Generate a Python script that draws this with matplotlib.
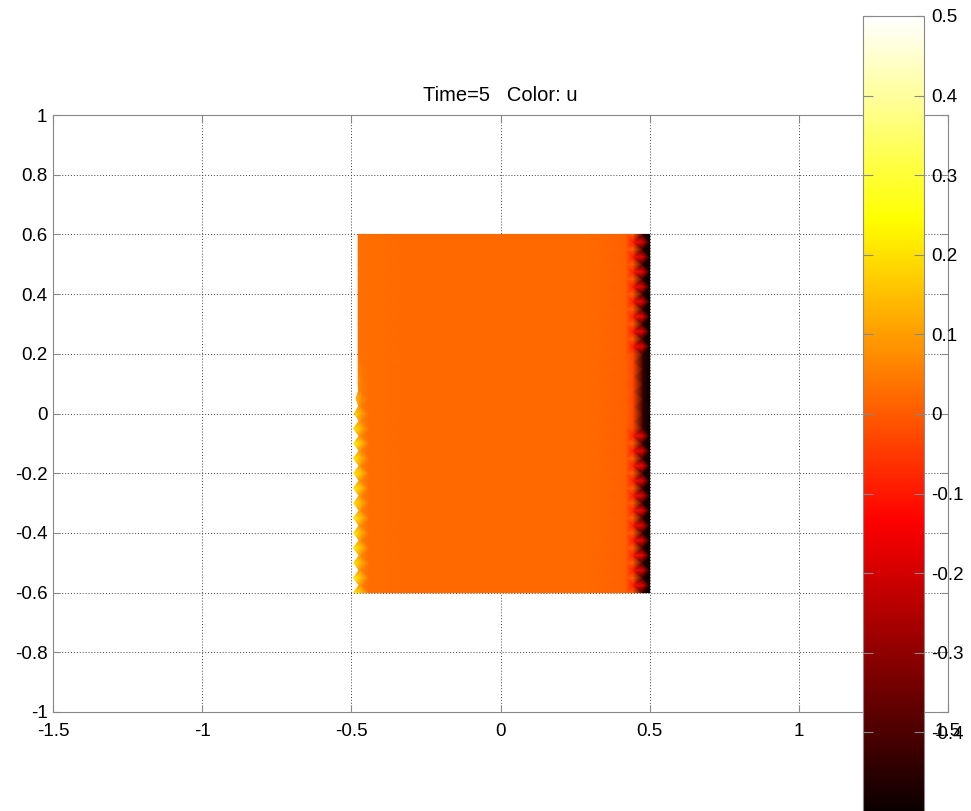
import matplotlib.pyplot as plt
import matplotlib.tri as mtri
import numpy as np

plt.rcParams['font.family'] = ['Liberation Sans', 'DejaVu Sans']

# mesh columns (x) and rows (y) of the deformed strip
x_cols = [-0.48, -0.465, -0.44, -0.3, 0.0, 0.3, 0.42, 0.445, 0.478, 0.5]
y_rows = np.round(np.arange(-0.6, 0.6001, 0.025), 3)
# left boundary is jagged: x of each boundary node, bottom to top
x_left = [-0.492, -0.474, -0.492, -0.474, -0.491, -0.474, -0.492, -0.474, -0.491, -0.474,
          -0.492, -0.474, -0.491, -0.474, -0.492, -0.474, -0.491, -0.474, -0.492, -0.474,
          -0.491, -0.474, -0.492, -0.474, -0.489, -0.475, -0.484, -0.476, -0.477, -0.477,
          -0.477, -0.477, -0.477, -0.477, -0.477, -0.477, -0.477, -0.477, -0.477, -0.477,
          -0.477, -0.477, -0.477, -0.477, -0.477, -0.477, -0.477, -0.477, -0.477]

# u on the left edge, bottom to top
u_left = [0.25, 0.10, 0.26, 0.09, 0.23, 0.11, 0.26, 0.10, 0.24, 0.09,
          0.27, 0.11, 0.23, 0.10, 0.26, 0.09, 0.25, 0.11, 0.24, 0.10,
          0.26, 0.09, 0.23, 0.10, 0.21, 0.08, 0.15, 0.07, 0.08, 0.07,
          0.06, 0.05, 0.04, 0.03, 0.03, 0.03, 0.03, 0.03, 0.03, 0.03,
          0.03, 0.03, 0.03, 0.03, 0.03, 0.03, 0.03, 0.03, 0.03]
u_left_in = [0.14, 0.06, 0.14, 0.06, 0.12, 0.06, 0.14, 0.06, 0.12, 0.06,
             0.14, 0.06, 0.12, 0.06, 0.14, 0.06, 0.14, 0.06, 0.12, 0.06,
             0.14, 0.06, 0.12, 0.06, 0.10, 0.05, 0.07, 0.05, 0.05, 0.04,
             0.04, 0.03, 0.03, 0.03, 0.03, 0.03, 0.03, 0.03, 0.03, 0.03,
             0.03, 0.03, 0.03, 0.03, 0.03, 0.03, 0.03, 0.03, 0.03]
# interior columns (constant along y)
u_core = [0.03, 0.02, 0.02, 0.02, 0.01]
# u near the right edge, bottom to top
u_right_in = [0.0, -0.10, 0.0, -0.10, 0.0, -0.09, 0.0, -0.10, 0.0, -0.10,
              0.0, -0.09, 0.0, -0.10, 0.0, -0.10, 0.0, -0.09, 0.0, -0.10,
              0.0, -0.09, -0.03, -0.03, -0.03, -0.03, -0.03, -0.03, -0.03, -0.03,
              -0.03, -0.03, -0.03, -0.10, 0.0, -0.10, 0.0, -0.09, 0.0, -0.10,
              0.0, -0.10, 0.0, -0.09, 0.0, -0.10, 0.0, -0.10, 0.0]
u_right_mid = [-0.46, -0.18, -0.46, -0.18, -0.46, -0.16, -0.46, -0.18, -0.46, -0.18,
               -0.46, -0.16, -0.46, -0.18, -0.46, -0.18, -0.46, -0.16, -0.46, -0.18,
               -0.46, -0.18, -0.44, -0.44, -0.44, -0.44, -0.44, -0.44, -0.44, -0.44,
               -0.44, -0.44, -0.44, -0.18, -0.46, -0.18, -0.46, -0.16, -0.46, -0.18,
               -0.46, -0.18, -0.46, -0.16, -0.46, -0.18, -0.46, -0.18, -0.46]
u_right_edge = -0.5

cbar_ticks = [-0.4, -0.3, -0.2, -0.1, 0, 0.1, 0.2, 0.3, 0.4, 0.5]
x_ticks = [-1.5, -1, -0.5, 0, 0.5, 1, 1.5]
y_ticks = [-1, -0.8, -0.6, -0.4, -0.2, 0, 0.2, 0.4, 0.6, 0.8, 1]

# assemble nodal field
ny, nx = len(y_rows), len(x_cols)
U = np.zeros((ny, nx))
U[:, 0] = u_left
U[:, 1] = u_left_in
for k, v in enumerate(u_core):
    U[:, 2 + k] = v
U[:, 7] = u_right_in
U[:, 8] = u_right_mid
U[:, 9] = u_right_edge
X, Y = np.meshgrid(x_cols, y_rows)
X[:, 0] = x_left

tris = []
for i in range(ny - 1):
    for j in range(nx - 1):
        a = i * nx + j
        b, c = a + 1, a + nx
        d = c + 1
        if (i + j) % 2 == 0:
            tris += [[a, b, d], [a, d, c]]
        else:
            tris += [[a, b, c], [b, d, c]]
tri = mtri.Triangulation(X.ravel(), Y.ravel(), np.array(tris))

fig = plt.figure(figsize=(9.71, 8.11), dpi=100)
ax = fig.add_axes([53 / 971, 1 - 712 / 811, (948 - 53) / 971, (712 - 115) / 811])

tpc = ax.tripcolor(tri, U.ravel(), cmap='hot', vmin=-0.5, vmax=0.5,
                   shading='gouraud')

ax.set_xlim(-1.5, 1.5)
ax.set_ylim(-1, 1)
ax.set_xticks(x_ticks)
ax.set_xticklabels([f'{v:g}' for v in x_ticks])
ax.set_yticks(y_ticks)
ax.set_yticklabels([f'{v:g}' for v in y_ticks])
ax.set_axisbelow(True)
ax.grid(True, color='#444444', linestyle=(0, (1, 2)), linewidth=0.7)
ax.tick_params(direction='in', length=5, color='#888888', labelsize=13.5,
               top=True, right=True, pad=4)
ax.tick_params(axis='x', pad=8)
for s in ax.spines.values():
    s.set_color('#888888')
ax.set_title('Time=5   Color: u', fontsize=14.5, pad=10)

cax = fig.add_axes([863 / 971, (811 - 812) / 811, 61 / 971, (812 - 16) / 811])
cb = fig.colorbar(tpc, cax=cax)
cb.set_ticks(cbar_ticks)
cb.set_ticklabels([f'{v:g}' for v in cbar_ticks])
cb.outline.set_edgecolor('#888888')
cax.tick_params(direction='in', left=True, right=True, length=7,
                color='#888888', labelsize=13.5, pad=5)

fig.savefig('out.png', dpi=100)
